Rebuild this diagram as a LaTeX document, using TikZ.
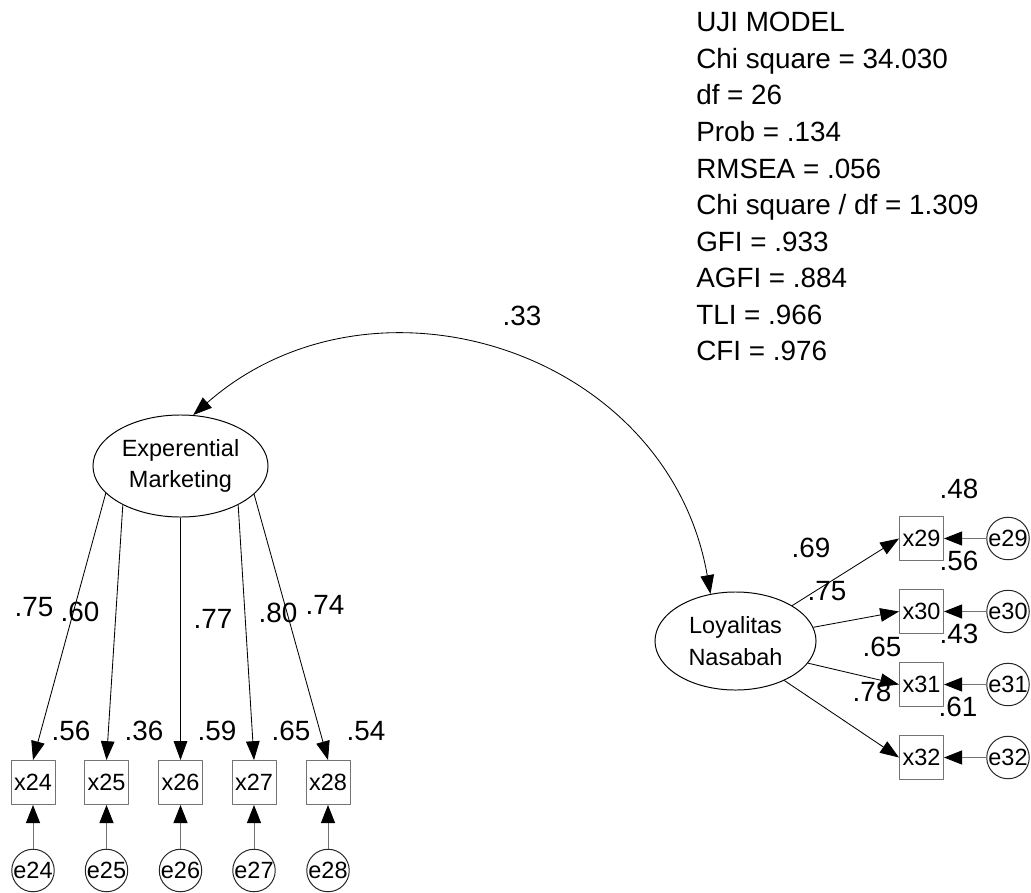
\documentclass[tikz,border=0pt]{standalone}
\usepackage{fontspec}
\setmainfont{Liberation Sans}
\usetikzlibrary{
  arrows.meta,      % Triangle 箭头
  shapes.geometric  % 椭圆节点
}
\tikzset{
  head/.style={-{Triangle[length=0.47cm, width=0.34cm]}},
  latent/.style={
    ellipse,
    draw=black,
    line width=0.7pt,
    inner sep=0pt,
    align=center,
    font=\fontsize{16.7}{22.6}\selectfont
  },
  obs box/.style={
    rectangle,
    draw=black!55,
    line width=0.7pt,
    inner sep=0pt,
    minimum size=1.1cm,
    font=\fontsize{16.7}{20}\selectfont
  },
  err circle/.style={
    circle,
    draw=black!85,
    line width=0.7pt,
    inner sep=0pt,
    minimum size=1.05cm,
    font=\fontsize{16.7}{20}\selectfont
  },
  path arrow/.style={
    head,
    line width=0.6pt,
    color=black
  },
  err arrow/.style={
    -{Triangle[length=0.45cm, width=0.35cm, color=black]},
    line width=0.7pt,
    color=black!55
  },
  coef/.style={
    inner sep=0pt,
    font=\fontsize{19.8}{24}\selectfont
  },
  fit line/.style={
    anchor=base west,
    inner sep=0pt,
    font=\fontsize{19.8}{24}\selectfont
  }
}

\begin{document}
\begin{tikzpicture}[x=0.025cm, y=-0.025cm, line join=round]
  % 画布范围（像素坐标，y 向下）
  \useasboundingbox (0,0) rectangle (1031,893);

  % ===================================
  % 潜变量
  % ===================================
  \node[latent, minimum width=4.375cm, minimum height=2.55cm] (EM) at (180.5,466) {Experential\\Marketing};
  \node[latent, minimum width=4.025cm, minimum height=2.45cm] (LN) at (735.5,641) {Loyalitas\\Nasabah};

  % ===================================
  % 左侧指标 x24--x28 及误差项
  % ===================================
  \foreach \n/\x/\a in {24/33/200, 25/106.5/214, 26/180.5/270, 27/254/326, 28/328/339} {
    \node[obs box] (x\n) at (\x,782.5) {x\n};
    \node[err circle] (e\n) at (\x,870.5) {e\n};
    \draw[path arrow] (EM.\a) -- (x\n.north);
    \draw[err arrow] (e\n) -- (x\n);
  }

  % ===================================
  % 右侧指标 x29--x32 及误差项
  % ===================================
  \foreach \n/\y/\a in {29/538.5/32, 30/611.5/10.5, 31/684.5/343.5, 32/757.5/321} {
    \node[obs box] (x\n) at (921.5,\y) {x\n};
    \node[err circle] (e\n) at (1008,\y) {e\n};
    \draw[path arrow] (LN.\a) -- (x\n.west);
    \draw[err arrow] (e\n) -- (x\n);
  }

  % 协方差弧线（两端箭头）
  \draw[line width=0.6pt, {Triangle[length=0.47cm, width=0.34cm]}-{Triangle[length=0.47cm, width=0.34cm]}]
    (LN.118) .. controls (668,350) and (373,257) .. (EM.76);
  \node[coef] (r33) at (522,316) {.33};

  % ===================================
  % 标准化载荷与 R^2
  % ===================================
  \foreach \n/\x/\y/\v in {24/34/607/.75, 25/80/612/.60, 26/213/619/.77, 27/278/613/.80, 28/325/605/.74,
                           29/811/548/.69, 30/827/591/.75, 31/882/647/.65, 32/872/692/.78} {
    \node[coef] (ld\n) at (\x,\y) {\v};
  }
  \foreach \n/\x/\y/\v in {24/71/731/.56, 25/144/731/.36, 26/217/731/.59, 27/291/731/.65, 28/366/731/.54,
                           29/959/489/.48, 30/959/561/.56, 31/959/634/.43, 32/958/707/.61} {
    \node[coef] (sq\n) at (\x,\y) {\v};
  }

  % ===================================
  % 模型拟合指标
  % ===================================
  \foreach \t [count=\i from 0] in {{UJI MODEL}, {Chi square = 34.030}, {df = 26}, {Prob = .134},
      {RMSEA = .056}, {Chi square / df = 1.309}, {GFI = .933}, {AGFI = .884}, {TLI = .966}, {CFI = .976}} {
    \node[fit line] (fit\i) at (696,32+36.5*\i) {\t};
  }
\end{tikzpicture}
\end{document}
